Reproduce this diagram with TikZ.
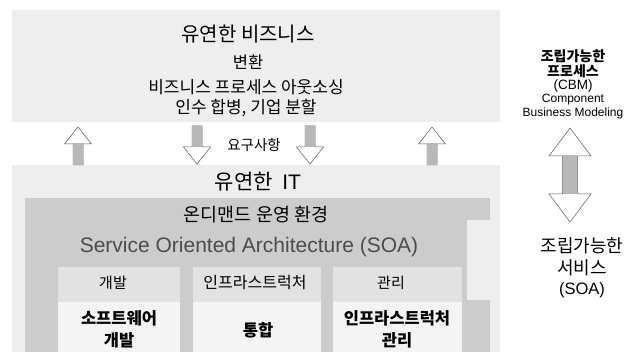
\documentclass[tikz,border=0pt]{standalone}
\usepackage{fontspec}
\setmainfont{Noto Sans CJK KR}
\newfontfamily\latinfont{Liberation Sans}
\definecolor{outerfill}{gray}{0.935}
\definecolor{innerfill}{gray}{0.80}
\definecolor{colfill}{gray}{0.885}
\definecolor{boxfill}{gray}{0.955}
\definecolor{shaftfill}{gray}{0.72}
\definecolor{soatext}{gray}{0.30}
\tikzset{
  region/.style={inner sep=0pt, outer sep=0pt, anchor=north west},
  txt/.style={inner sep=0pt, text=black, align=center},
  pics/uparrow/.style={code={
    \draw[gray!70!black, line width=0.5pt, fill=white]
      (0,-19) -- (13.5,-2) -- (5,-2) -- (5,19) -- (-5,19) -- (-5,-2) -- (-13.5,-2) -- cycle;
    \fill[shaftfill] (-4.6,-2.5) rectangle (4.6,18.6);
  }},
  pics/dblarrow/.style={code={
    \draw[gray!70!black, line width=0.5pt, fill=white]
      (0,-47) -- (21,-19) -- (7.5,-19) -- (7.5,19) -- (21,19) -- (0,47)
      -- (-21,19) -- (-7.5,19) -- (-7.5,-19) -- (-21,-19) -- cycle;
    \fill[shaftfill] (-7.1,-19.5) rectangle (7.1,19.5);
  }}
}
\begin{document}
\begin{tikzpicture}[x=1pt,y=-1pt]
\useasboundingbox (0,0) rectangle (632,352);
\fill[white] (0,0) rectangle (632,352);

% regions
\node[region, fill=outerfill, minimum width=488pt, minimum height=112pt] (biz) at (12,10) {};
\node[region, fill=outerfill, minimum width=488pt, minimum height=187pt] (it) at (12,165) {};
\node[region, fill=innerfill, minimum width=465pt, minimum height=154pt] (ondemand) at (25,198) {};
\node[region, fill=outerfill, minimum width=23pt, minimum height=80pt] (notch) at (467,220) {};

% columns
\node[region, fill=colfill, minimum width=122pt, minimum height=85pt] (col1) at (58,267) {};
\node[region, fill=colfill, minimum width=128pt, minimum height=85pt] (col2) at (193,267) {};
\node[region, fill=colfill, minimum width=129pt, minimum height=85pt] (col3) at (333,267) {};
\node[region, fill=boxfill, minimum width=122pt, minimum height=50pt] (box1) at (58,302) {};
\node[region, fill=boxfill, minimum width=128pt, minimum height=50pt] (box2) at (193,302) {};
\node[region, fill=boxfill, minimum width=129pt, minimum height=50pt] (box3) at (333,302) {};

% business texts
\node[txt, font=\fontsize{20}{22}\selectfont] (biztitle) at (248,34) {유연한 비즈니스};
\node[txt, font=\fontsize{16.5}{18}\selectfont] (b1) at (248,62) {변환};
\node[txt, font=\fontsize{17}{19}\selectfont] (b2) at (246,87) {비즈니스 프로세스 아웃소싱};
\node[txt, font=\fontsize{17}{19}\selectfont] (b3) at (246,108) {인수 합병, 기업 분할};

% arrows
\pic at (78,146) {uparrow};
\pic[rotate=180] at (197,145) {uparrow};
\pic[rotate=180] at (310,145) {uparrow};
\pic at (432,146) {uparrow};
\node[txt, font=\fontsize{14.5}{16}\selectfont] (req) at (254,145) {요구사항};

% IT texts
\node[txt, font=\fontsize{21}{23}\selectfont] (ittitle) at (258,182) {유연한\hspace{0.45em}{\latinfont IT}};
\node[txt, font=\fontsize{18.5}{20}\selectfont] (odt) at (256,215) {온디맨드 운영 환경};
\node[txt, font=\latinfont\fontsize{21}{23}\selectfont, text=soatext] (soa) at (249,247) {Service Oriented Architecture (SOA)};

\node[txt, font=\fontsize{15}{17}\selectfont] (l1) at (113,283) {개발};
\node[txt, font=\fontsize{16}{18}\selectfont] (l2) at (255,283) {인프라스트럭처};
\node[txt, font=\fontsize{15}{17}\selectfont] (l3) at (391,283) {관리};

\node[txt, font=\bfseries\fontsize{16.5}{22}\selectfont] (t1) at (119,329) {소프트웨어\\개발};
\node[txt, font=\bfseries\fontsize{16.5}{22}\selectfont] (t2) at (258,330) {통합};
\node[txt, font=\bfseries\fontsize{16.5}{22}\selectfont] (t3) at (397,329) {인프라스트럭처\\관리};

% right side
\node[txt, font=\bfseries\fontsize{14}{15}\selectfont] (cp1) at (573,56) {조립가능한};
\node[txt, font=\bfseries\fontsize{14}{15}\selectfont] (cp2) at (573,71) {프로세스};
\node[txt, font=\latinfont\fontsize{13.5}{15}\selectfont] (cp3) at (573,86) {(CBM)};
\node[txt, font=\latinfont\fontsize{12}{13}\selectfont] (cp4) at (573,100) {Component};
\node[txt, font=\latinfont\fontsize{12}{13}\selectfont] (cp5) at (573,113) {Business Modeling};

\pic at (570,175) {dblarrow};

\node[txt, font=\fontsize{18}{20}\selectfont] (cs1) at (582,246) {조립가능한};
\node[txt, font=\fontsize{18}{20}\selectfont] (cs2) at (582,268) {서비스};
\node[txt, font=\latinfont\fontsize{16.5}{18}\selectfont] (cs3) at (582,290) {(SOA)};
\end{tikzpicture}
\end{document}
